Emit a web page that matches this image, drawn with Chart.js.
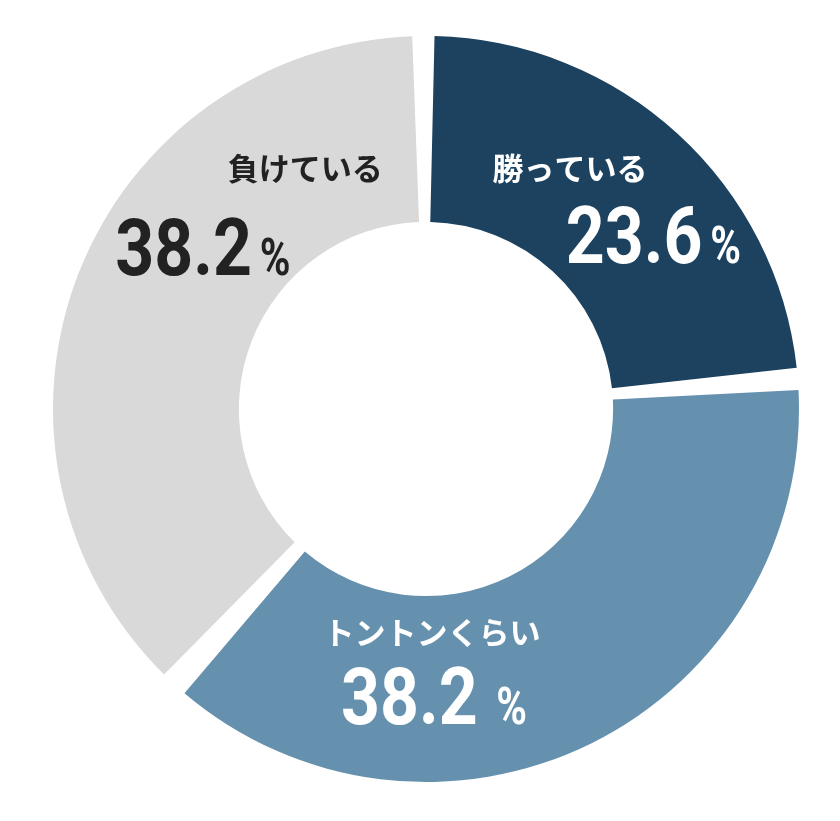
<!DOCTYPE html>
<html lang="ja">
<head>
<meta charset="utf-8">
<title>勝敗の割合</title>
<script src="https://cdn.jsdelivr.net/npm/chart.js"></script>
<style>
  html, body { margin: 0; padding: 0; background: #fff; }
  #wrap { width: 840px; height: 821px; }
</style>
</head>
<body>
<div id="wrap"><canvas id="donut" width="840" height="821"></canvas></div>
<script>
// データ
const categories = ["勝っている", "トントンくらい", "負けている"];
const percentages = [23.6, 38.2, 38.2];
const numberLabels = ["23.6", "38.2", "38.2"];

const segmentColors = ["#1c4260", "#6591ae", "#d9d9d9"];
const textColors = ["#ffffff", "#ffffff", "#222222"];

// ラベルの位置（中心からのピクセル差、半径373基準）
const labelLayout = [
  { tx: 68,   ty: -246, nx: 143,  ny: -149, gap: 8 },
  { tx: -105, ty: 228,  nx: -87,  ny: 322,  gap: 19 },
  { tx: -203, ty: -246, nx: -318, ny: -137, gap: 8 }
];

const labelPlugin = {
  id: 'segmentLabels',
  afterDatasetsDraw(chart) {
    const ctx = chart.ctx;
    const arcs = chart.getDatasetMeta(0).data;
    const cx = arcs[0].x, cy = arcs[0].y;
    const k = arcs[0].outerRadius / 373;
    arcs.forEach((arc, i) => {
      const l = labelLayout[i];
      ctx.save();
      ctx.fillStyle = textColors[i];
      // タイトル
      ctx.font = "bold " + Math.round(32 * k) + "px 'Noto Sans CJK JP'";
      ctx.textAlign = "left";
      ctx.textBaseline = "middle";
      ctx.fillText(categories[i], cx + l.tx * k, cy + l.ty * k);
      // 数字
      ctx.textBaseline = "alphabetic";
      ctx.font = "bold " + Math.round(81 * k) + "px Roboto";
      const sx = 0.86;
      const w = ctx.measureText(numberLabels[i]).width * sx;
      ctx.save();
      ctx.translate(cx + l.nx * k, cy + l.ny * k);
      ctx.scale(sx, 1);
      ctx.fillText(numberLabels[i], 0, 0);
      ctx.restore();
      // %
      ctx.font = "bold " + Math.round(53 * k) + "px Roboto";
      ctx.save();
      ctx.translate(cx + l.nx * k + w + l.gap * k, cy + l.ny * k);
      ctx.scale(0.8, 1);
      ctx.fillText("%", 0, 0);
      ctx.restore();
      ctx.restore();
    });
  }
};

new Chart(document.getElementById("donut"), {
  type: 'doughnut',
  data: {
    labels: categories,
    datasets: [{
      data: percentages,
      backgroundColor: segmentColors,
      borderWidth: 0,
      spacing: 17
    }]
  },
  options: {
    responsive: false,
    animation: false,
    cutout: '49%',
    layout: { padding: { left: 53, right: 41, top: 36, bottom: 39 } },
    plugins: {
      legend: { display: false },
      tooltip: { enabled: false }
    }
  },
  plugins: [labelPlugin]
});
</script>
</body>
</html>
